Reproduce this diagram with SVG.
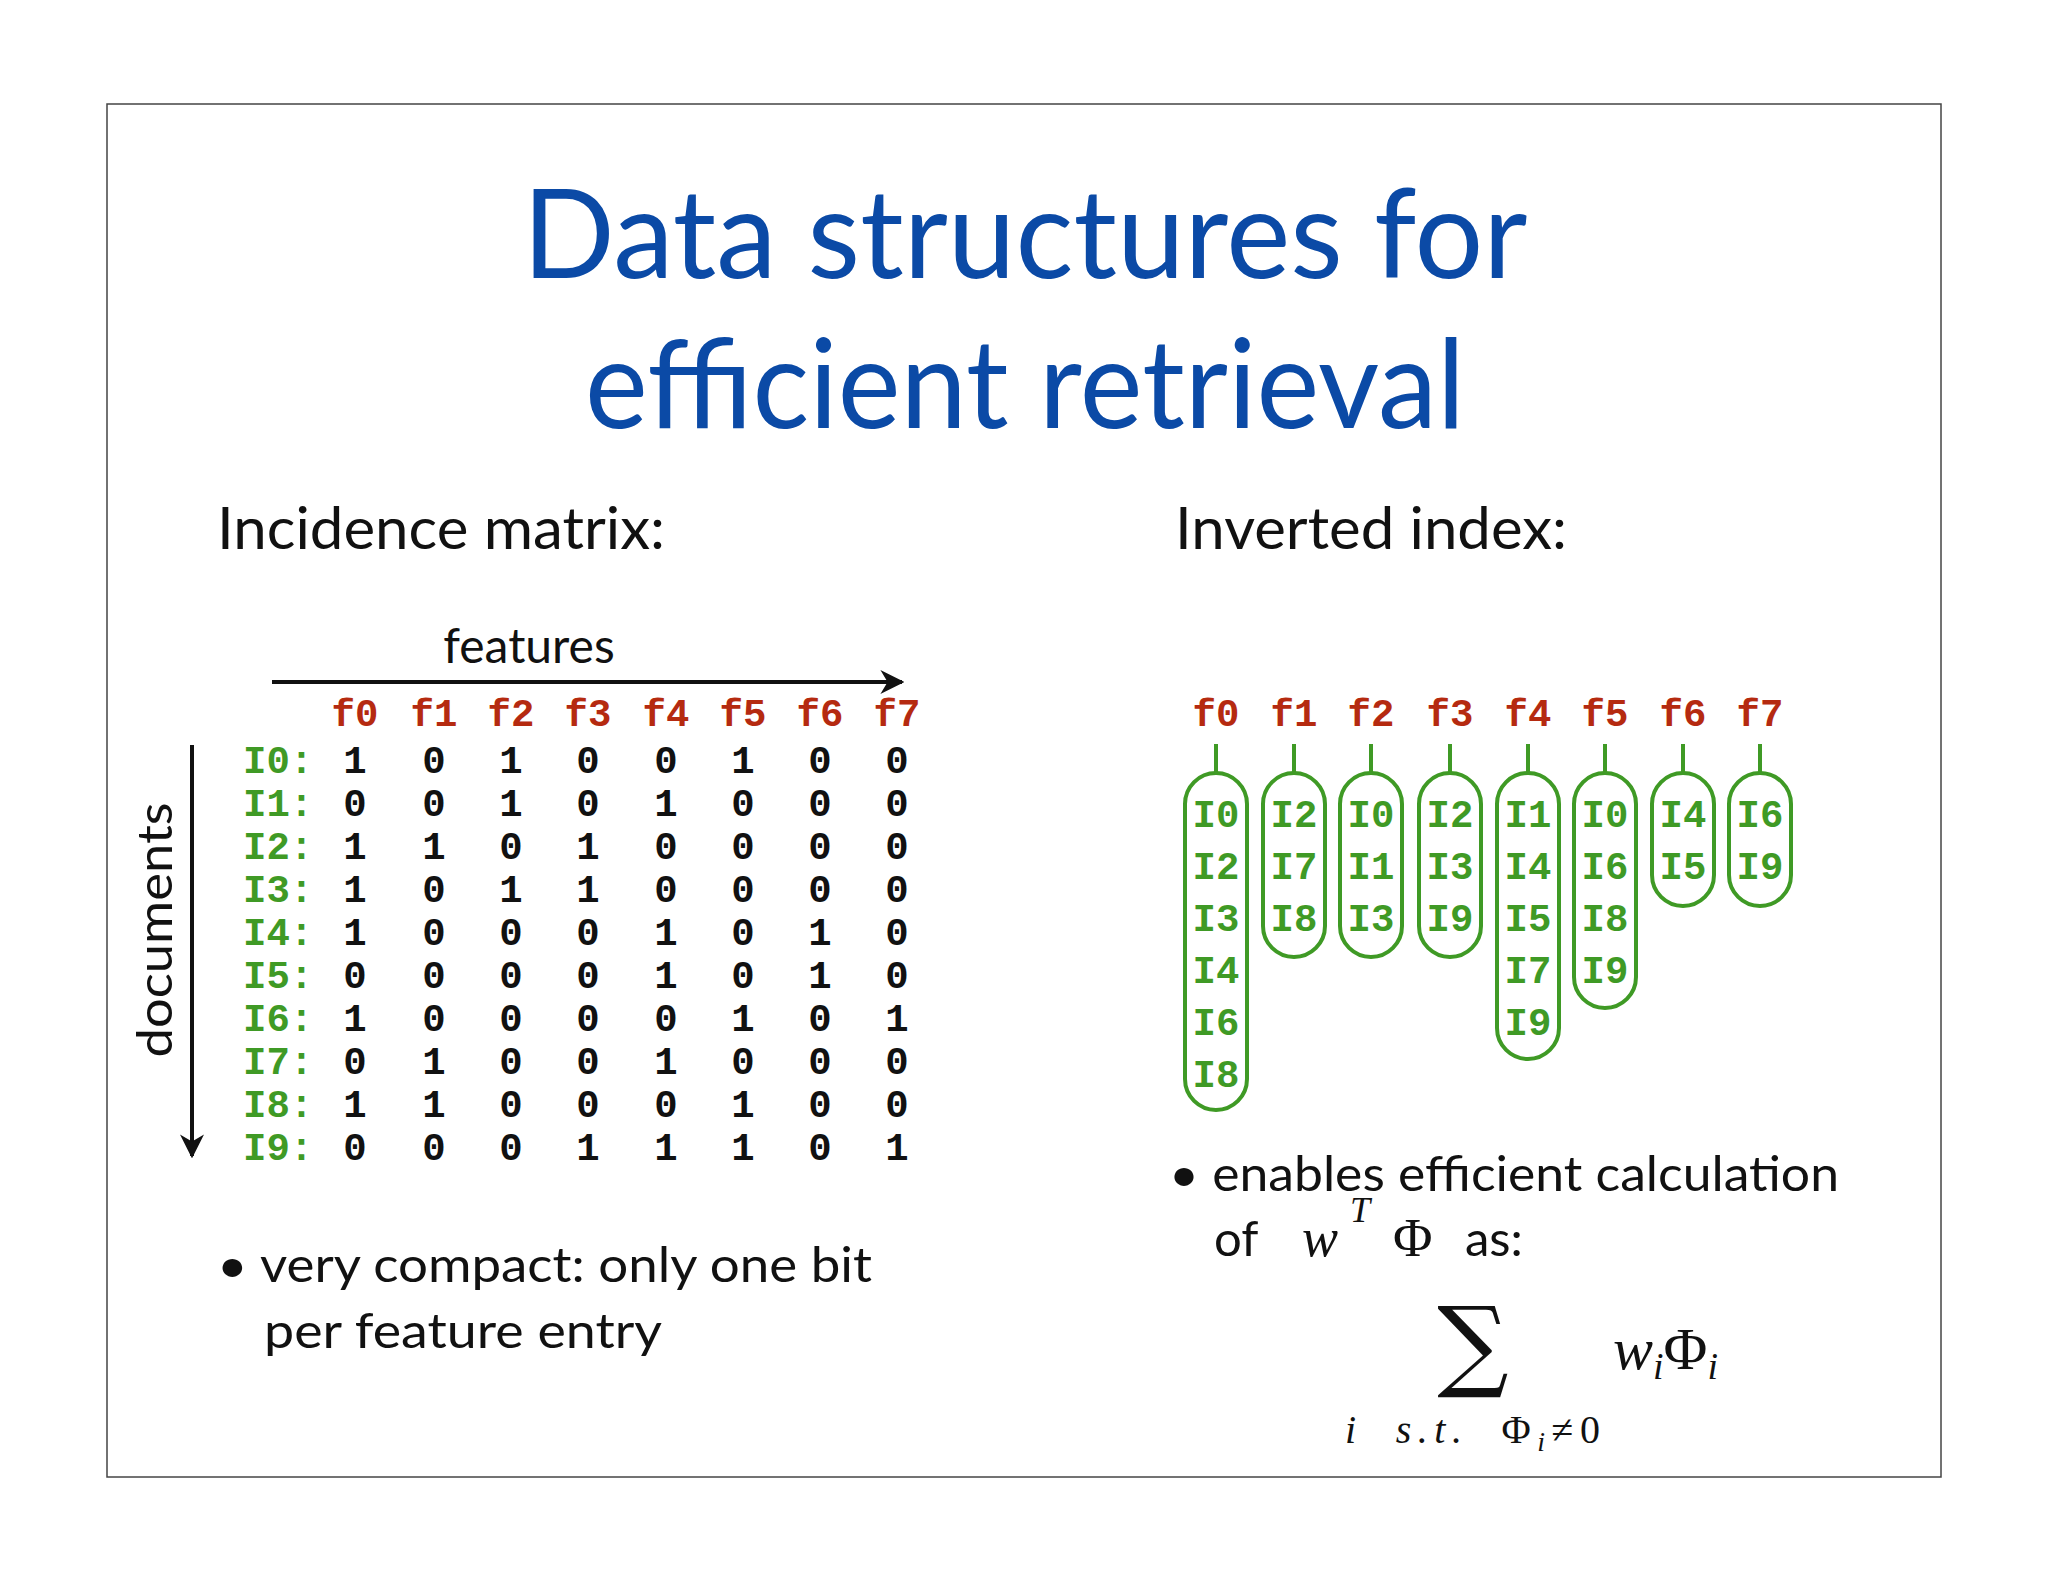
<svg xmlns="http://www.w3.org/2000/svg" width="2048" height="1582" viewBox="0 0 2048 1582">
<style>
.t{font-family:"Lato","Open Sans",sans-serif;fill:#111}
.m{font-family:"Liberation Mono","DejaVu Sans Mono",monospace;font-weight:bold;font-size:39px}
.r{fill:#b52a10}.g{fill:#3f9a25}.k{fill:#111}
.cap{fill:none;stroke:#3f9a25;stroke-width:4}
.tk{stroke:#3f9a25;stroke-width:4}
.mi{font-family:"Liberation Serif","DejaVu Serif",serif;font-style:italic;fill:#111}
</style>
<defs><marker id="ah" viewBox="0 0 10 10" refX="9" refY="5" markerWidth="6" markerHeight="6" orient="auto"><path d="M0,0L10,5L0,10L3,5z" fill="#111"/></marker></defs>
<rect width="2048" height="1582" fill="#fff"/>
<rect x="107" y="104" width="1834" height="1373" fill="none" stroke="#444" stroke-width="1.5"/>
<g id="title" font-family="Lato,'Open Sans',sans-serif" fill="#0b4aa6" font-size="124" text-anchor="middle">
<text x="1025" y="278" textLength="1005" lengthAdjust="spacingAndGlyphs">Data structures for</text>
<text x="1025" y="428" textLength="880" lengthAdjust="spacingAndGlyphs">efficient retrieval</text>
</g>
<g id="headings" class="t" font-size="58">
<text class="t" x="217" y="549" textLength="448" lengthAdjust="spacingAndGlyphs">Incidence matrix:</text>
<text class="t" x="1175" y="549" textLength="392" lengthAdjust="spacingAndGlyphs">Inverted index:</text>
</g>
<g id="connectors" stroke="#111" stroke-width="4" fill="none">
<line x1="272" y1="682" x2="902" y2="682" marker-end="url(#ah)"/>
<line x1="192" y1="745" x2="192" y2="1156" marker-end="url(#ah)"/>
</g>
<g id="axis-labels" class="t" font-size="48">
<text class="t" x="529" y="663" text-anchor="middle">features</text>
<text class="t" transform="translate(172,930) rotate(-90)" text-anchor="middle" textLength="255" lengthAdjust="spacingAndGlyphs">documents</text>
</g>
<g id="matrix" class="m" text-anchor="middle">
<g class="r">
<text x="355" y="726">f0</text><text x="434" y="726">f1</text><text x="511" y="726">f2</text><text x="588" y="726">f3</text><text x="666" y="726">f4</text><text x="743" y="726">f5</text><text x="820" y="726">f6</text><text x="897" y="726">f7</text>
</g>
<g class="g" text-anchor="start">
<text x="243" y="773">I0:</text><text x="243" y="816">I1:</text><text x="243" y="859">I2:</text><text x="243" y="902">I3:</text><text x="243" y="945">I4:</text><text x="243" y="988">I5:</text><text x="243" y="1031">I6:</text><text x="243" y="1074">I7:</text><text x="243" y="1117">I8:</text><text x="243" y="1160">I9:</text>
</g>
<g class="k">
<text y="773"><tspan x="355">1</tspan><tspan x="434">0</tspan><tspan x="511">1</tspan><tspan x="588">0</tspan><tspan x="666">0</tspan><tspan x="743">1</tspan><tspan x="820">0</tspan><tspan x="897">0</tspan></text>
<text y="816"><tspan x="355">0</tspan><tspan x="434">0</tspan><tspan x="511">1</tspan><tspan x="588">0</tspan><tspan x="666">1</tspan><tspan x="743">0</tspan><tspan x="820">0</tspan><tspan x="897">0</tspan></text>
<text y="859"><tspan x="355">1</tspan><tspan x="434">1</tspan><tspan x="511">0</tspan><tspan x="588">1</tspan><tspan x="666">0</tspan><tspan x="743">0</tspan><tspan x="820">0</tspan><tspan x="897">0</tspan></text>
<text y="902"><tspan x="355">1</tspan><tspan x="434">0</tspan><tspan x="511">1</tspan><tspan x="588">1</tspan><tspan x="666">0</tspan><tspan x="743">0</tspan><tspan x="820">0</tspan><tspan x="897">0</tspan></text>
<text y="945"><tspan x="355">1</tspan><tspan x="434">0</tspan><tspan x="511">0</tspan><tspan x="588">0</tspan><tspan x="666">1</tspan><tspan x="743">0</tspan><tspan x="820">1</tspan><tspan x="897">0</tspan></text>
<text y="988"><tspan x="355">0</tspan><tspan x="434">0</tspan><tspan x="511">0</tspan><tspan x="588">0</tspan><tspan x="666">1</tspan><tspan x="743">0</tspan><tspan x="820">1</tspan><tspan x="897">0</tspan></text>
<text y="1031"><tspan x="355">1</tspan><tspan x="434">0</tspan><tspan x="511">0</tspan><tspan x="588">0</tspan><tspan x="666">0</tspan><tspan x="743">1</tspan><tspan x="820">0</tspan><tspan x="897">1</tspan></text>
<text y="1074"><tspan x="355">0</tspan><tspan x="434">1</tspan><tspan x="511">0</tspan><tspan x="588">0</tspan><tspan x="666">1</tspan><tspan x="743">0</tspan><tspan x="820">0</tspan><tspan x="897">0</tspan></text>
<text y="1117"><tspan x="355">1</tspan><tspan x="434">1</tspan><tspan x="511">0</tspan><tspan x="588">0</tspan><tspan x="666">0</tspan><tspan x="743">1</tspan><tspan x="820">0</tspan><tspan x="897">0</tspan></text>
<text y="1160"><tspan x="355">0</tspan><tspan x="434">0</tspan><tspan x="511">0</tspan><tspan x="588">1</tspan><tspan x="666">1</tspan><tspan x="743">1</tspan><tspan x="820">0</tspan><tspan x="897">1</tspan></text>
</g>
</g>
<g id="bullet-left" class="t" font-size="49">
<text class="t" x="217" y="1282" textLength="655" lengthAdjust="spacingAndGlyphs">• very compact: only one bit</text>
<text class="t" x="264" y="1348" textLength="398" lengthAdjust="spacingAndGlyphs">per feature entry</text>
</g>
<g id="inverted" class="m" text-anchor="middle">
<g class="r">
<text x="1216" y="726">f0</text><text x="1294" y="726">f1</text><text x="1371" y="726">f2</text><text x="1450" y="726">f3</text><text x="1528" y="726">f4</text><text x="1605" y="726">f5</text><text x="1683" y="726">f6</text><text x="1760" y="726">f7</text>
</g>
<g id="list-f0"><line class="tk" x1="1216" y1="744" x2="1216" y2="773"/><rect class="cap" x="1185" y="773" width="62" height="337" rx="31"/><text class="g" x="1216"><tspan x="1216" y="827">I0</tspan><tspan x="1216" y="879">I2</tspan><tspan x="1216" y="931">I3</tspan><tspan x="1216" y="983">I4</tspan><tspan x="1216" y="1035">I6</tspan><tspan x="1216" y="1087">I8</tspan></text></g>
<g id="list-f1"><line class="tk" x1="1294" y1="744" x2="1294" y2="773"/><rect class="cap" x="1263" y="773" width="62" height="184" rx="31"/><text class="g"><tspan x="1294" y="827">I2</tspan><tspan x="1294" y="879">I7</tspan><tspan x="1294" y="931">I8</tspan></text></g>
<g id="list-f2"><line class="tk" x1="1371" y1="744" x2="1371" y2="773"/><rect class="cap" x="1340" y="773" width="62" height="184" rx="31"/><text class="g"><tspan x="1371" y="827">I0</tspan><tspan x="1371" y="879">I1</tspan><tspan x="1371" y="931">I3</tspan></text></g>
<g id="list-f3"><line class="tk" x1="1450" y1="744" x2="1450" y2="773"/><rect class="cap" x="1419" y="773" width="62" height="184" rx="31"/><text class="g"><tspan x="1450" y="827">I2</tspan><tspan x="1450" y="879">I3</tspan><tspan x="1450" y="931">I9</tspan></text></g>
<g id="list-f4"><line class="tk" x1="1528" y1="744" x2="1528" y2="773"/><rect class="cap" x="1497" y="773" width="62" height="286" rx="31"/><text class="g"><tspan x="1528" y="827">I1</tspan><tspan x="1528" y="879">I4</tspan><tspan x="1528" y="931">I5</tspan><tspan x="1528" y="983">I7</tspan><tspan x="1528" y="1035">I9</tspan></text></g>
<g id="list-f5"><line class="tk" x1="1605" y1="744" x2="1605" y2="773"/><rect class="cap" x="1574" y="773" width="62" height="235" rx="31"/><text class="g"><tspan x="1605" y="827">I0</tspan><tspan x="1605" y="879">I6</tspan><tspan x="1605" y="931">I8</tspan><tspan x="1605" y="983">I9</tspan></text></g>
<g id="list-f6"><line class="tk" x1="1683" y1="744" x2="1683" y2="773"/><rect class="cap" x="1652" y="773" width="62" height="133" rx="31"/><text class="g"><tspan x="1683" y="827">I4</tspan><tspan x="1683" y="879">I5</tspan></text></g>
<g id="list-f7"><line class="tk" x1="1760" y1="744" x2="1760" y2="773"/><rect class="cap" x="1729" y="773" width="62" height="133" rx="31"/><text class="g"><tspan x="1760" y="827">I6</tspan><tspan x="1760" y="879">I9</tspan></text></g>
</g>
<g id="bullet-right" font-size="49">
<text class="t" x="1169" y="1191" textLength="670" lengthAdjust="spacingAndGlyphs">• enables efficient calculation</text>
<text class="t" x="1214" y="1256">of</text>
<text class="mi" x="1302" y="1256" font-size="54">w<tspan x="1350" y="1222" font-size="36">T</tspan><tspan x="1393" y="1256" font-style="normal">Φ</tspan></text>
<text class="t" x="1465" y="1256">as:</text>
<text x="1473" y="1378" font-size="100" text-anchor="middle" font-family="DejaVu Serif,serif" fill="#111">∑</text>
<text class="mi" x="1345" y="1443" font-size="40" xml:space="preserve" textLength="255" lengthAdjust="spacing">i  s.t.  <tspan font-style="normal">Φ</tspan><tspan font-size="28" dy="8">i</tspan><tspan font-style="normal" dy="-8">≠0</tspan></text>
<text class="mi" x="1613" y="1369" font-size="60">w<tspan font-size="38" dy="10">i</tspan><tspan font-style="normal" dy="-10">Φ</tspan><tspan font-size="38" dy="10">i</tspan></text>
</g>
</svg>
